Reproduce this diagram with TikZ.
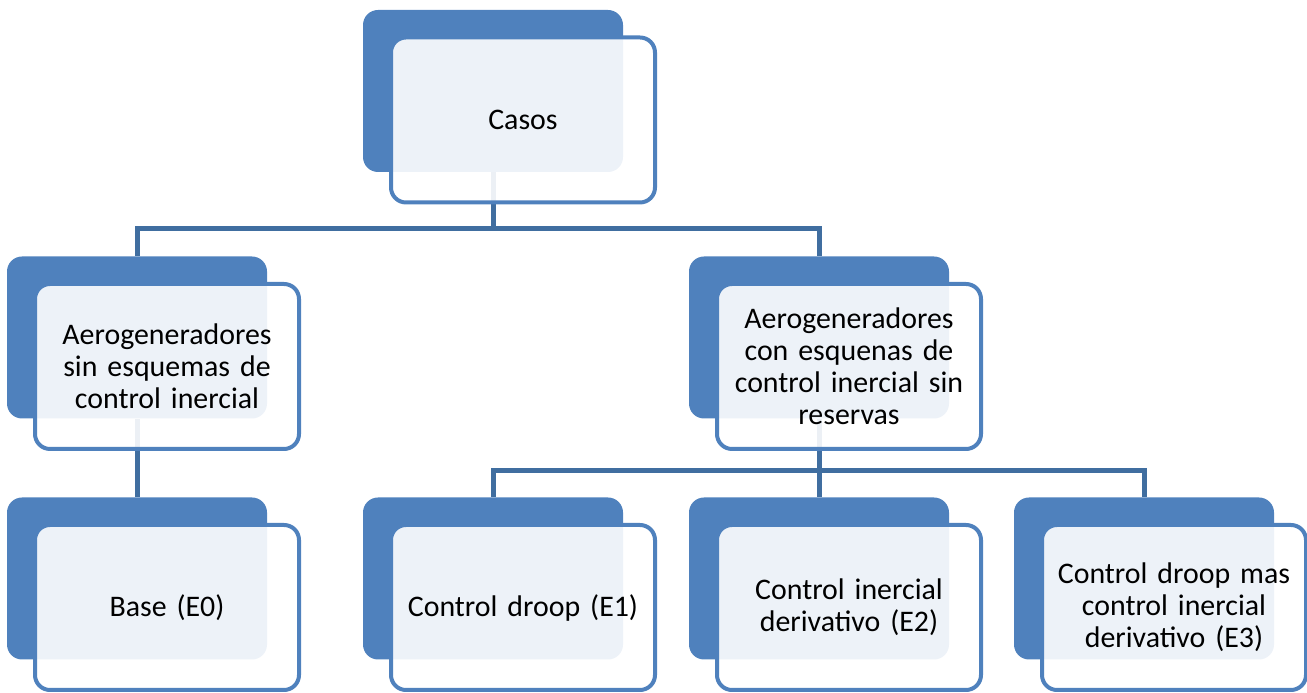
\documentclass[tikz,border=0pt]{standalone}
\usepackage{fontspec}
\setmainfont{Carlito}
\definecolor{boxblue}{RGB}{79,129,189}
\definecolor{linkblue}{RGB}{64,110,160}
\begin{document}
\begin{tikzpicture}[
    back/.style={fill=boxblue, rounded corners=0.3cm, minimum width=5.2cm, minimum height=3.24cm, inner sep=0pt},
    front/.style={draw=boxblue, line width=0.08cm, fill=white, fill opacity=0.9, text opacity=1,
        rounded corners=0.3cm, minimum width=5.28cm, minimum height=3.3cm, text width=5cm,
        align=center, inner sep=0pt, font=\fontsize{17}{18.2}\selectfont},
    link/.style={draw=linkblue, line width=0.1cm}]
\clip (0,0) rectangle (26.14,13.86);
% back boxes
\node[back] (casos) at (9.86,12.04) {};
\node[back] (sin) at (2.74,7.11) {};
\node[back] (con) at (16.38,7.11) {};
\node[back] (base) at (2.74,2.29) {};
\node[back] (droop) at (9.86,2.29) {};
\node[back] (inercial) at (16.38,2.29) {};
\node[back] (mixto) at (22.88,2.29) {};
% connectors
\draw[link] (casos.south) -- ++(0,-1.12) -| (sin.north);
\draw[link] (casos.south) -- ++(0,-1.12) -| (con.north);
\draw[link] (sin.south) -- (base.north);
\draw[link] (con.south) -- ++(0,-1.04) -| (droop.north);
\draw[link] (con.south) -- ++(0,-1.04) -| (inercial.north);
\draw[link] (con.south) -- ++(0,-1.04) -| (mixto.north);
% front boxes
\node[front] (casosf) at ([shift={(0.6,-0.58)}]casos) {Casos};
\node[front] (sinf) at ([shift={(0.6,-0.58)}]sin) {Aerogeneradores\\sin esquemas de\\control inercial};
\node[front] (conf) at ([shift={(0.6,-0.58)}]con) {Aerogeneradores\\con esquenas de\\control inercial sin\\reservas};
\node[front] (basef) at ([shift={(0.6,-0.58)}]base) {Base (E0)};
\node[front] (droopf) at ([shift={(0.6,-0.58)}]droop) {Control droop (E1)};
\node[front] (inercialf) at ([shift={(0.6,-0.58)}]inercial) {Control inercial\\derivativo (E2)};
\node[front] (mixtof) at ([shift={(0.6,-0.58)}]mixto) {Control droop mas\\control inercial\\derivativo (E3)};
\end{tikzpicture}
\end{document}
